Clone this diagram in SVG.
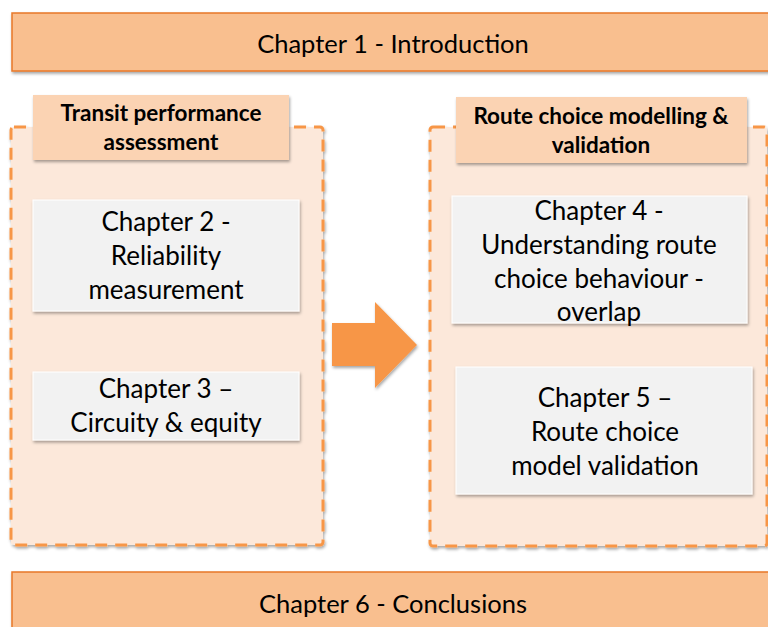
<svg xmlns="http://www.w3.org/2000/svg" width="768" height="627" viewBox="0 0 768 627">
<style>
text{font-family:Lato,"Open Sans","Liberation Sans",sans-serif;fill:#000;text-anchor:middle}
.bar{fill:#F9BF8F;stroke:#E8782A;stroke-width:1.5}
.cont{fill:#FCE8DA;stroke:#F79646;stroke-width:3;stroke-dasharray:12,8}
.hdr{fill:#FBD3B3}
.ch{fill:#F2F2F2;stroke:#FFFFFF;stroke-width:1}
.t{font-size:26px}
.b{font-size:22.5px;font-weight:bold}
.bt{font-size:25.5px}
</style>
<defs>
<filter id="sh" x="-10%" y="-10%" width="120%" height="130%">
<feDropShadow dx="1" dy="2" stdDeviation="1.5" flood-color="#000" flood-opacity="0.35"/>
</filter>
</defs>
<rect width="768" height="627" fill="#fff"/>
<g id="ch1">
<rect class="bar" x="12" y="13" width="770" height="58" filter="url(#sh)"/>
<text class="bt" x="393" y="53">Chapter 1 - Introduction</text>
</g>
<g id="group-left">
<rect class="cont" x="11" y="127" width="312" height="418" rx="3" filter="url(#sh)"/>
</g>
<g id="group-right">
<rect class="cont" x="430" y="127" width="337" height="419" rx="3" filter="url(#sh)"/>
</g>
<g id="hdr-left">
<rect class="hdr" x="33" y="95" width="256" height="65" filter="url(#sh)"/>
<text class="b" x="161" y="121">Transit performance</text>
<text class="b" x="161" y="150">assessment</text>
</g>
<g id="hdr-right">
<rect class="hdr" x="456" y="97" width="291" height="66" filter="url(#sh)"/>
<text class="b" x="601" y="124">Route choice modelling &amp;</text>
<text class="b" x="601" y="153">validation</text>
</g>
<g id="ch2">
<rect class="ch" x="33" y="200" width="266" height="111" filter="url(#sh)"/>
<text class="t" x="166" y="231">Chapter 2 -</text>
<text class="t" x="166" y="265">Reliability</text>
<text class="t" x="166" y="299">measurement</text>
</g>
<g id="ch3">
<rect class="ch" x="33" y="372" width="266" height="68" filter="url(#sh)"/>
<text class="t" x="166" y="398">Chapter 3 –</text>
<text class="t" x="166" y="432">Circuity &amp; equity</text>
</g>
<g id="ch4">
<rect class="ch" x="452" y="196" width="295" height="127" filter="url(#sh)"/>
<text class="t" x="599" y="220">Chapter 4 -</text>
<text class="t" x="599" y="254">Understanding route</text>
<text class="t" x="599" y="288">choice behaviour -</text>
<text class="t" x="599" y="321">overlap</text>
</g>
<g id="ch5">
<rect class="ch" x="456" y="367" width="296" height="127" filter="url(#sh)"/>
<text class="t" x="605" y="407">Chapter 5 –</text>
<text class="t" x="605" y="441">Route choice</text>
<text class="t" x="605" y="475">model validation</text>
</g>
<g id="connectors">
<polygon points="332,323 375,323 375,302 417,345 375,388 375,366 332,366" fill="#F79646" filter="url(#sh)"/>
</g>
<g id="ch6">
<rect class="bar" x="12" y="572" width="770" height="70" filter="url(#sh)"/>
<text class="bt" x="393" y="613">Chapter 6 - Conclusions</text>
</g>
</svg>
